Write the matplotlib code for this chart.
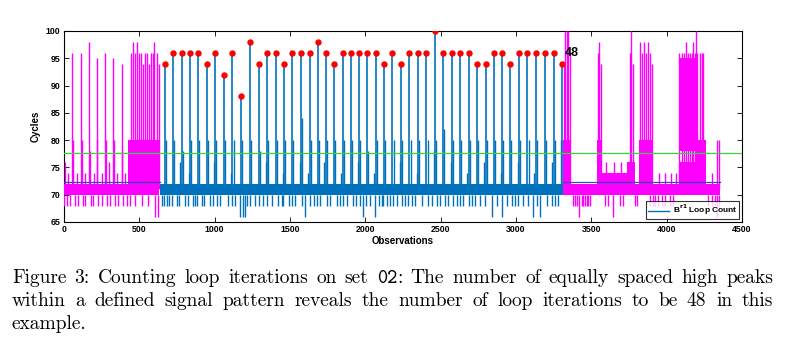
import matplotlib as mpl

mpl.use("Agg")

import matplotlib.pyplot as plt
from matplotlib.lines import Line2D

# ------------------------------------------------------------
# data read off the reference picture (x = observation index)
# ------------------------------------------------------------
# 48 equally spaced high peaks (red dots)
PEAK_X = [670, 725, 781, 836, 891, 947, 1004, 1062, 1117, 1175, 1236, 1294,
          1349, 1405, 1460, 1515, 1573, 1631, 1684, 1737, 1792, 1850, 1905, 1958,
          2013, 2069, 2124, 2179, 2237, 2292, 2349, 2405, 2462, 2517, 2575, 2630,
          2686, 2741, 2799, 2852, 2907, 2962, 3020, 3075, 3131, 3192, 3250, 3307]
PEAK_Y = [94, 96, 96, 96, 96, 94, 96, 92, 96, 88, 98, 94,
          96, 96, 94, 96, 96, 96, 98, 96, 94, 96, 96, 96,
          96, 96, 94, 96, 94, 96, 96, 96, 100, 96, 96, 96,
          96, 94, 94, 96, 96, 94, 96, 96, 96, 96, 96, 94]

# smaller companion spikes next to each peak
COMP_X = [678, 733, 789, 844, 899, 955, 1012, 1070, 1125, 1183, 1244, 1302,
          1357, 1413, 1468, 1523, 1581, 1639, 1692, 1745, 1800, 1858, 1913, 1966,
          2021, 2077, 2132, 2187, 2245, 2300, 2357, 2413, 2470, 2525, 2583, 2638,
          2694, 2749, 2807, 2860, 2915, 2970, 3028, 3083, 3139, 3200, 3258, 3299]
COMP_Y = [80, 80, 78, 80, 80, 80, 80, 80, 80, 80, 80, 78,
          80, 80, 80, 80, 84, 80, 80, 80, 80, 80, 80, 80,
          78, 80, 80, 80, 80, 80, 80, 80, 80, 82, 80, 80,
          80, 80, 80, 80, 80, 80, 80, 80, 80, 80, 80, 80]

BLUE_SMALL_X = [772, 827, 995, 1108, 1340, 1451, 1564, 1622, 1728, 1841, 1949,
                2060, 2228, 2340, 2453, 2566, 2677, 2790, 2898, 3011, 3122, 3241]
BLUE_SMALL_Y = [76, 74, 76, 74, 76, 74, 76, 74, 76, 74, 76,
                74, 76, 74, 78, 76, 74, 76, 74, 76, 74, 76]

BLUE_DIP_X = [648, 664, 681, 699, 714, 748, 765, 803, 825, 858, 870, 880, 914,
              929, 969, 991, 1013, 1035, 1090, 1113, 1135, 1168, 1186, 1201, 1212,
              1234, 1268, 1296, 1323, 1345, 1378, 1422, 1445, 1456, 1495, 1511,
              1533, 1577, 1599, 1633, 1659, 1681, 1699, 1743, 1765, 1809, 1832,
              1854, 1876, 1920, 1936, 1964, 1982, 2004, 2031, 2064, 2093, 2108,
              2119, 2141, 2163, 2186, 2208, 2245, 2263, 2285, 2307, 2329, 2374,
              2418, 2440, 2473, 2495, 2528, 2550, 2584, 2606, 2628, 2646, 2690,
              2705, 2728, 2761, 2794, 2838, 2871, 2904, 2938, 2971, 2993, 3015,
              3048, 3081, 3115, 3137, 3159, 3204, 3237, 3260, 3281]
BLUE_DIP_Y = [68, 68, 68, 68, 68, 68, 68, 68, 68, 68, 68, 68, 68,
              68, 68, 68, 68, 68, 68, 68, 68, 66, 66, 66, 68,
              68, 68, 68, 68, 68, 68, 68, 68, 68, 68, 68,
              68, 68, 66, 68, 68, 68, 68, 68, 68, 68, 68,
              68, 68, 68, 68, 68, 66, 68, 68, 66, 68, 68,
              68, 68, 68, 68, 68, 68, 68, 68, 68, 68, 68,
              68, 68, 68, 68, 68, 68, 68, 68, 68, 68, 68,
              68, 68, 68, 68, 66, 68, 66, 68, 68, 68, 68,
              68, 68, 66, 68, 66, 68, 68, 68, 68]

BLUE_BAND = (635, 3310, 70, 72)

# magenta (outside the loop pattern): dense bands, spikes, dips
MAG_BAND_X0 = [0, 425, 3310, 3368, 3537, 3572, 3740, 3790, 3815, 3910, 4080, 4080, 4205, 4258]
MAG_BAND_X1 = [425, 632, 3368, 3537, 3572, 3740, 3790, 3815, 3910, 4080, 4205, 4205, 4258, 4356]
MAG_BAND_LO = [70, 70, 70, 70, 70, 70, 70, 70, 70, 70, 70, 78, 70, 70]
MAG_BAND_HI = [72, 80, 80, 72, 80, 74, 76, 72, 80, 72, 76, 95, 80, 72]

MAG_SPIKE_X = [7, 25, 51, 58, 85, 113, 118, 140, 164, 170, 200, 217, 222, 250,
               272, 278, 300, 327, 332, 355, 383, 388, 405,
               445, 456, 469, 482, 495, 509, 522, 535, 549, 562, 575, 588, 600,
               615, 628,
               3316, 3326, 3336, 3346, 3358, 3545, 3553, 3562, 3600, 3650, 3700,
               3757, 3766, 3776, 3823, 3838, 3852, 3866, 3878, 3892, 3905,
               3950, 3990, 4030, 4060,
               4084, 4099, 4117, 4128, 4144, 4155, 4166, 4178, 4188, 4194, 4203,
               4221, 4232, 4243, 4300, 4332, 4347]
MAG_SPIKE_Y = [76, 74, 96, 80, 74, 96, 80, 74, 98, 78, 74, 95, 80, 74,
               96, 80, 76, 95, 80, 74, 94, 78, 74,
               96, 98, 96, 98, 96, 96, 94, 96, 96, 94, 96, 96, 98,
               96, 94,
               94, 100, 100, 100, 96, 96, 98, 94, 76, 76, 76,
               96, 100, 94, 98, 96, 98, 96, 98, 96, 94,
               74, 74, 74, 74,
               96, 96, 96, 98, 96, 96, 96, 98, 96, 100, 96,
               96, 96, 96, 74, 80, 80]

MAG_DIP_X = [0, 18, 40, 73, 95, 124, 142, 177, 195, 228, 250, 283, 305, 338,
             361, 394, 416, 440, 470, 520, 560, 604, 622,
             3381, 3392, 3403, 3418, 3436, 3447, 3458, 3469, 3480, 3491,
             3591, 3609, 3646, 3690, 3712, 3790, 3801, 3889,
             3911, 3922, 3944, 3967, 3989, 4022, 4044,
             4276, 4298, 4320, 4332, 4347]
MAG_DIP_Y = [68, 68, 68, 68, 68, 68, 68, 68, 68, 68, 68, 68, 68, 68,
             68, 68, 68, 68, 68, 68, 68, 66, 66,
             68, 68, 68, 66, 68, 68, 68, 68, 68, 68,
             68, 68, 66, 68, 68, 68, 68, 68,
             68, 68, 68, 68, 68, 68, 68,
             68, 68, 68, 66, 68]

GREEN_LEVEL = 77.7
MEAN_LEVEL = 72.4
MEAN_SPANS = [(0, 635), (3313, 4356)]
LOOP_COUNT = len(PEAK_X)

CAPTION_LINES = [
    "Figure 3: Counting loop iterations on set 02: The number of equally spaced high peaks",
    "within a defined signal pattern reveals the number of loop iterations to be 48 in this",
    "example.",
]

# ------------------------------------------------------------
# style
# ------------------------------------------------------------
BLUE = "#0072BD"
MAGENTA = "#FF00FF"
GREEN = "#3CD23C"
MEAN_BLUE = "#2F4FB5"
W, H = 790, 351

plt.rcParams["font.family"] = ["Liberation Sans", "DejaVu Sans"]
plt.rcParams["axes.linewidth"] = 0.8

fig = plt.figure(figsize=(W / 100, H / 100), dpi=100)
ax = fig.add_axes([64 / W, 1 - 222 / H, 678 / W, 191 / H])

# blue signal (loop pattern)
ax.fill_between([BLUE_BAND[0], BLUE_BAND[1]], BLUE_BAND[2], BLUE_BAND[3],
                color=BLUE, lw=0, zorder=2)
ax.vlines(BLUE_DIP_X, BLUE_DIP_Y, 70, color=BLUE, lw=1.0, zorder=2)
ax.vlines(BLUE_SMALL_X, 71, BLUE_SMALL_Y, color=BLUE, lw=1.0, zorder=2)
ax.vlines(COMP_X, 71, COMP_Y, color=BLUE, lw=1.0, zorder=2)
ax.vlines(PEAK_X, 71, PEAK_Y, color=BLUE, lw=1.2, zorder=2)

# magenta signal (outside the pattern)
for x0, x1, lo, hi in zip(MAG_BAND_X0, MAG_BAND_X1, MAG_BAND_LO, MAG_BAND_HI):
    ax.fill_between([x0, x1], lo, hi, color=MAGENTA, lw=0, zorder=3)
ax.vlines(MAG_DIP_X, MAG_DIP_Y, 70, color=MAGENTA, lw=1.0, zorder=3)
ax.vlines(MAG_SPIKE_X, 71, MAG_SPIKE_Y, color=MAGENTA, lw=1.0, zorder=3)

# reference levels
ax.axhline(GREEN_LEVEL, color=GREEN, lw=0.9, zorder=4)
for x0, x1 in MEAN_SPANS:
    ax.plot([x0, x1], [MEAN_LEVEL, MEAN_LEVEL], color=MEAN_BLUE, lw=0.9, zorder=4)

# detected peaks
ax.plot(PEAK_X, PEAK_Y, "o", color="#FF0000", markersize=4.6, markeredgewidth=0, zorder=5)
ax.text(PEAK_X[-1] + 15, PEAK_Y[-1] + 2, str(LOOP_COUNT), fontsize=9,
        fontweight="bold", ha="left", va="center", zorder=6)

ax.set_xlim(0, 4500)
ax.set_ylim(65, 100)
ax.set_xticks(range(0, 4501, 500))
ax.set_yticks(range(65, 101, 5))
ax.tick_params(direction="in", top=True, right=True, length=3.5, width=0.6,
               labelsize=6.3, pad=2.5)
for lab in ax.get_xticklabels() + ax.get_yticklabels():
    lab.set_fontweight("bold")
ax.set_xlabel("Observations", fontsize=7, fontweight="bold", labelpad=1)
ax.set_ylabel("Cycles", fontsize=7, fontweight="bold", labelpad=4)

leg = ax.legend(handles=[Line2D([], [], color=BLUE, lw=1)],
                labels=[r"B$^{\mathbf{r1}}$ Loop Count"],
                loc="lower right", fancybox=False, edgecolor="black",
                prop={"size": 6, "weight": "bold"}, handlelength=2.5,
                borderaxespad=0.35, borderpad=0.2, handletextpad=0.5)
leg.get_frame().set_linewidth(0.8)
leg.set_zorder(7)

# ------------------------------------------------------------
# caption (LaTeX look, justified)
# ------------------------------------------------------------
CAP_FS = 14
CAP_LEFT, CAP_RIGHT = 12, 773
CAP_BASE = [283, 306, 329]
renderer = fig.canvas.get_renderer()


def _pieces(word):
    # "02" of the caption is set in typewriter type
    if word.startswith("02"):
        return [("02", "cmtt10"), (word[2:], "cmr10")]
    return [(word, "cmr10")]


def _put_line(text, base_px, justify):
    words = text.split(" ")
    artists = []
    widths = []
    for w in words:
        row = []
        total = 0.0
        for txt, fam in _pieces(w):
            if not txt:
                continue
            t = fig.text(0, 0, txt, family=fam, fontsize=CAP_FS, va="baseline")
            row.append(t)
            total += t.get_window_extent(renderer).width
        artists.append(row)
        widths.append(total)
    if justify and len(words) > 1:
        gap = (CAP_RIGHT - CAP_LEFT - sum(widths)) / (len(words) - 1)
    else:
        gap = CAP_FS * 100 / 72 * 0.333
    x = CAP_LEFT
    for row, wd in zip(artists, widths):
        xx = x
        for t in row:
            t.set_position((xx / W, 1 - base_px / H))
            xx += t.get_window_extent(renderer).width
        x += wd + gap


for i, line in enumerate(CAPTION_LINES):
    _put_line(line, CAP_BASE[i], justify=(i < len(CAPTION_LINES) - 1))

fig.savefig("out.png", dpi=100)
